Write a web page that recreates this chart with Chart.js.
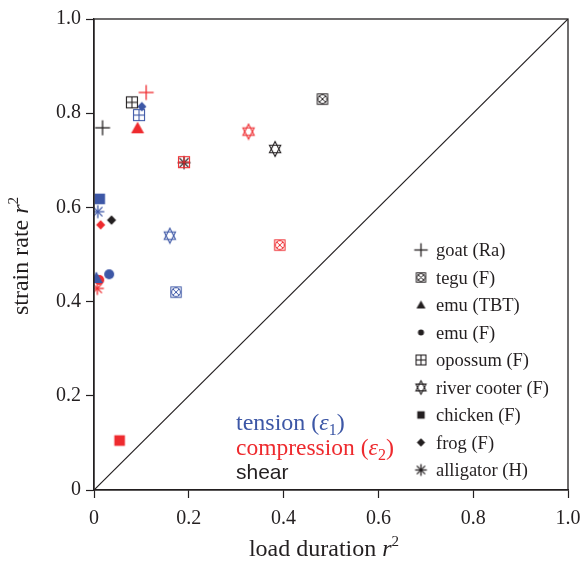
<!DOCTYPE html>
<html><head><meta charset="utf-8">
<script src="https://cdn.jsdelivr.net/npm/chart.js@4/dist/chart.umd.min.js"></script>
<style>html,body{margin:0;padding:0;background:#fff}canvas{display:block}</style>
</head><body>
<canvas id="c" width="584" height="567" style="width:584px;height:567px"></canvas>
<script>
// ---- data ----
const species = ['goat (Ra)', 'tegu (F)', 'emu (TBT)', 'emu (F)', 'opossum (F)', 'river cooter (F)', 'chicken (F)', 'frog (F)', 'alligator (H)'];
const symbols = ['plus', 'tegu', 'triangle', 'dot', 'opossum', 'star', 'square', 'diamond', 'asterisk'];
const tensionX = [null, 0.173, 0.005, 0.032, 0.095, 0.160, 0.012, 0.101, 0.008];
const tensionY = [null, 0.420, 0.450, 0.458, 0.796, 0.540, 0.618, 0.814, 0.591];
const compressionX = [0.110, 0.392, 0.092, 0.011, 0.190, 0.326, 0.054, 0.014, 0.007];
const compressionY = [0.844, 0.520, 0.768, 0.446, 0.696, 0.761, 0.105, 0.563, 0.428];
const shearX = [0.018, 0.482, null, null, 0.080, 0.382, null, 0.037, 0.190];
const shearY = [0.769, 0.830, null, null, 0.823, 0.724, null, 0.573, 0.695];
const xTicks = [0, 0.2, 0.4, 0.6, 0.8, 1.0];
const yTicks = [0, 0.2, 0.4, 0.6, 0.8, 1.0];
const diagonal = [[0, 0], [1, 1]];

const BLUE = '#3d57a6', RED = '#ee2a2e', BLACK = '#231f20';
const SERIF = '"Liberation Serif", "Times New Roman", serif';
const SANS = '"Liberation Sans", Arial, sans-serif';

function makeSymbol(kind, color, scale) {
  const s = scale || 1;
  const size = Math.ceil(18 * s);
  const c = document.createElement('canvas');
  c.width = size; c.height = size;
  const g = c.getContext('2d');
  g.translate(size / 2, size / 2);
  g.strokeStyle = color; g.fillStyle = color; g.lineWidth = 1.1;
  const line = (x1, y1, x2, y2) => { g.beginPath(); g.moveTo(x1, y1); g.lineTo(x2, y2); g.stroke(); };
  if (kind === 'plus') {
    const r = 7.5 * s; g.lineWidth = 1.3;
    line(-r, 0, r, 0); line(0, -r, 0, r);
  } else if (kind === 'tegu') {
    const r = 5.2 * s; g.lineWidth = 1;
    g.strokeRect(-r, -r, 2 * r, 2 * r);
    g.beginPath(); g.arc(0, 0, r * 0.85, 0, Math.PI * 2); g.stroke();
    line(-r * 0.62, -r * 0.62, r * 0.62, r * 0.62); line(-r * 0.62, r * 0.62, r * 0.62, -r * 0.62);
  } else if (kind === 'triangle') {
    const r = 6.5 * s;
    g.beginPath(); g.moveTo(0, -r); g.lineTo(r, r * 0.75); g.lineTo(-r, r * 0.75); g.closePath(); g.fill();
  } else if (kind === 'dot') {
    g.beginPath(); g.arc(0, 0, 5 * s, 0, Math.PI * 2); g.fill();
  } else if (kind === 'opossum') {
    const r = 5.5 * s;
    g.strokeRect(-r, -r, 2 * r, 2 * r);
    line(-r, 0, r, 0); line(0, -r, 0, r);
  } else if (kind === 'star') {
    const rx = 6.5 * s, ry = 7.5 * s;
    const tri = (sg) => {
      g.beginPath();
      for (let k = 0; k < 3; k++) {
        const a = -Math.PI / 2 * sg + k * 2 * Math.PI / 3;
        const px = rx * Math.cos(a), py = ry * Math.sin(a);
        if (k === 0) g.moveTo(px, py); else g.lineTo(px, py);
      }
      g.closePath(); g.stroke();
    };
    tri(1); tri(-1);
  } else if (kind === 'square') {
    const r = 5.3 * s; g.fillRect(-r, -r, 2 * r, 2 * r);
  } else if (kind === 'diamond') {
    const r = 4.8 * s;
    g.beginPath(); g.moveTo(0, -r); g.lineTo(r * 0.95, 0); g.lineTo(0, r); g.lineTo(-r * 0.95, 0); g.closePath(); g.fill();
  } else if (kind === 'asterisk') {
    const r = 6.5 * s; g.lineWidth = 1.3;
    for (let k = 0; k < 4; k++) {
      const a = k * Math.PI / 4;
      line(-r * Math.cos(a), -r * Math.sin(a), r * Math.cos(a), r * Math.sin(a));
    }
  }
  return c;
}

const modes = [
  { xs: tensionX, ys: tensionY, color: BLUE, name: 'tension' },
  { xs: compressionX, ys: compressionY, color: RED, name: 'compression' },
  { xs: shearX, ys: shearY, color: BLACK, name: 'shear' }
];

const datasets = [];
datasets.push({
  type: 'line', label: 'y = x',
  data: diagonal.map(p => ({ x: p[0], y: p[1] })),
  borderColor: BLACK, borderWidth: 1.2, pointRadius: 0, fill: false, order: 100
});
species.forEach((sp, i) => {
  modes.forEach(m => {
    if (m.xs[i] == null) return;
    datasets.push({
      type: 'scatter', label: sp + ' ' + m.name,
      data: [{ x: m.xs[i], y: m.ys[i] }],
      pointStyle: makeSymbol(symbols[i], m.color, 1),
      pointRadius: 6, pointHoverRadius: 6
    });
  });
});

function drawRich(ctx, parts, x, y, align) {
  let total = 0;
  parts.forEach(p => { ctx.font = p.font; total += ctx.measureText(p.t).width; });
  let cx = align === 'center' ? x - total / 2 : x;
  parts.forEach(p => {
    ctx.font = p.font; ctx.fillStyle = p.color;
    ctx.fillText(p.t, cx, y + (p.dy || 0));
    cx += ctx.measureText(p.t).width;
  });
}

const overlay = {
  id: 'overlay',
  afterDraw(chart) {
    const ctx = chart.ctx, a = chart.chartArea;
    ctx.save();
    // frame
    ctx.strokeStyle = BLACK; ctx.lineWidth = 1.3;
    ctx.strokeRect(a.left, a.top, a.right - a.left, a.bottom - a.top);
    ctx.textBaseline = 'alphabetic';
    ctx.textAlign = 'left';
    // legend
    const ly0 = 250, lstep = 27.5;
    species.forEach((sp, i) => {
      const y = ly0 + i * lstep;
      const sym = makeSymbol(symbols[i], BLACK, symbols[i] === 'dot' ? 0.6 : (symbols[i] === 'triangle' || symbols[i] === 'square' ? 0.7 : 0.9));
      ctx.drawImage(sym, 421 - sym.width / 2, y - sym.height / 2);
      ctx.font = '18.5px ' + SERIF; ctx.fillStyle = BLACK;
      ctx.fillText(sp, 436, y + 6);
    });
    // mode labels
    const big = '24px ' + SERIF, it = 'italic 24px ' + SERIF, sub = '16px ' + SERIF;
    drawRich(ctx, [{ t: 'tension (', font: big, color: BLUE }, { t: 'ε', font: it, color: BLUE }, { t: '1', font: sub, color: BLUE, dy: 5 }, { t: ')', font: big, color: BLUE }], 236, 430);
    drawRich(ctx, [{ t: 'compression (', font: '23.5px ' + SERIF, color: RED }, { t: 'ε', font: it, color: RED }, { t: '2', font: sub, color: RED, dy: 5 }, { t: ')', font: big, color: RED }], 236, 455);
    drawRich(ctx, [{ t: 'shear', font: '21px ' + SANS, color: BLACK }], 236, 479);
    // axis titles
    const tf = '24px ' + SERIF, tfi = 'italic 24px ' + SERIF, tfs = '15px ' + SERIF;
    drawRich(ctx, [{ t: 'load duration ', font: tf, color: BLACK }, { t: 'r', font: tfi, color: BLACK }, { t: '2', font: tfs, color: BLACK, dy: -10 }], 324, 556, 'center');
    ctx.translate(28, 256);
    ctx.rotate(-Math.PI / 2);
    drawRich(ctx, [{ t: 'strain rate ', font: tf, color: BLACK }, { t: 'r', font: tfi, color: BLACK }, { t: '2', font: tfs, color: BLACK, dy: -10 }], 0, 0, 'center');
    ctx.restore();
  }
};

const tickFmt = v => (v === 0 ? '0' : v.toFixed(1));
new Chart(document.getElementById('c'), {
  type: 'scatter',
  data: { datasets },
  options: {
    responsive: false, animation: false, devicePixelRatio: 1,
    layout: { padding: { left: 0, right: 16, top: 19, bottom: 0 } },
    plugins: { legend: { display: false }, tooltip: { enabled: false } },
    scales: {
      x: {
        type: 'linear', min: 0, max: 1,
        afterFit: s => { s.height = 77; s.paddingLeft = 0; s.paddingRight = 0; },
        afterBuildTicks: s => { s.ticks = xTicks.map(v => ({ value: v })); },
        ticks: { callback: tickFmt, color: BLACK, font: { family: SERIF, size: 20 }, padding: 9, maxRotation: 0 },
        grid: { drawOnChartArea: false, tickLength: 8, color: BLACK, tickWidth: 1.2 },
        border: { color: BLACK, width: 1.3 }
      },
      y: {
        type: 'linear', min: 0, max: 1,
        afterFit: s => { s.width = 94; s.paddingTop = 0; s.paddingBottom = 0; },
        afterBuildTicks: s => { s.ticks = yTicks.map(v => ({ value: v })); },
        ticks: { callback: tickFmt, color: BLACK, font: { family: SERIF, size: 20 }, padding: 5 },
        grid: { drawOnChartArea: false, tickLength: 8, color: BLACK, tickWidth: 1.2 },
        border: { color: BLACK, width: 1.3 }
      }
    }
  },
  plugins: [overlay]
});
</script>
</body></html>
